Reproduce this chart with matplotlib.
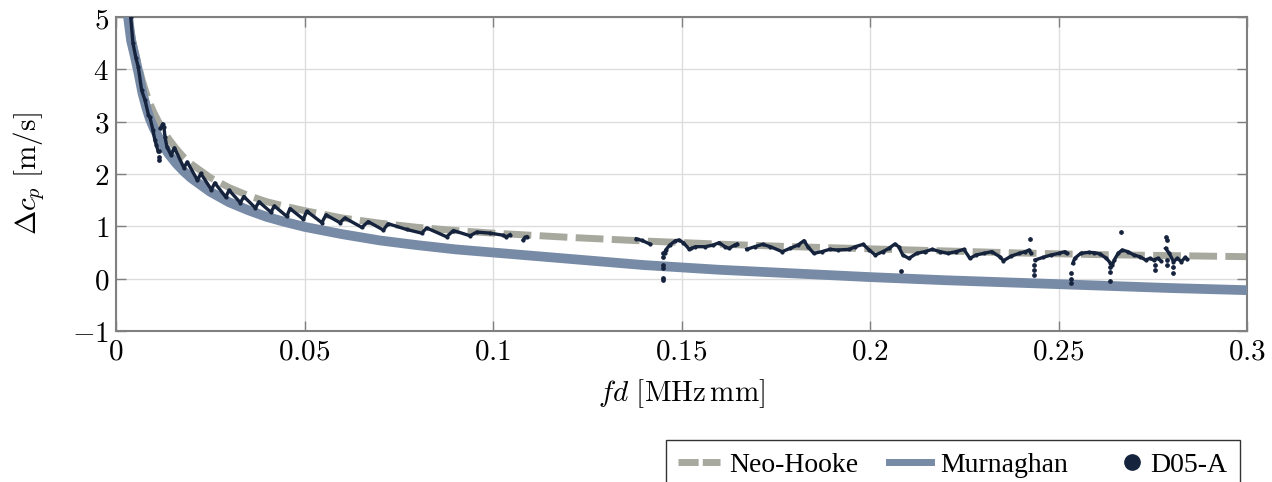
import numpy as np
import matplotlib.pyplot as plt
from matplotlib.lines import Line2D
from matplotlib.legend_handler import HandlerLine2D
from matplotlib.ticker import FuncFormatter

plt.rcParams['mathtext.fontset'] = 'cm'
plt.rcParams['font.family'] = ['DejaVu Serif']

# model curves: fd [MHz mm] vs delta c_p [m/s]
neo_x = [0.0030, 0.0035, 0.004, 0.005, 0.006, 0.007, 0.008, 0.009, 0.010, 0.012, 0.014,
         0.016, 0.018, 0.020, 0.025, 0.030, 0.035, 0.040, 0.045, 0.050, 0.060,
         0.070, 0.080, 0.090, 0.100, 0.120, 0.140, 0.160, 0.180, 0.200, 0.220,
         0.240, 0.260, 0.280, 0.300]
neo_y = [5.35, 5.00, 4.70, 4.35, 4.05, 3.78, 3.55, 3.35, 3.18, 2.90, 2.67,
         2.48, 2.32, 2.19, 1.93, 1.74, 1.59, 1.47, 1.38, 1.30, 1.16,
         1.06, 0.98, 0.92, 0.87, 0.79, 0.72, 0.66, 0.61, 0.57, 0.53,
         0.49, 0.46, 0.44, 0.42]

mur_x = [0.0028, 0.0032, 0.004, 0.005, 0.006, 0.007, 0.008, 0.009, 0.010, 0.012, 0.014,
         0.016, 0.018, 0.020, 0.025, 0.030, 0.035, 0.040, 0.045, 0.050, 0.060,
         0.070, 0.080, 0.090, 0.100, 0.120, 0.140, 0.160, 0.180, 0.200, 0.220,
         0.240, 0.260, 0.280, 0.300]
mur_y = [5.30, 5.00, 4.55, 4.25, 3.92, 3.55, 3.28, 3.05, 2.88, 2.60, 2.38,
         2.20, 2.05, 1.92, 1.66, 1.46, 1.31, 1.18, 1.08, 0.99, 0.85,
         0.73, 0.64, 0.56, 0.50, 0.38, 0.26, 0.17, 0.10, 0.03, -0.03,
         -0.08, -0.13, -0.18, -0.22]

# measured D05-A, contiguous runs (NaN = gap between runs)
d05_x = [0.0039, 0.0045, 0.0053, 0.0059, 0.0068, 0.0077, 0.0086, 0.0090, 0.0098, 0.0103,
         0.0107, 0.0112, np.nan,
         0.0118, 0.0124, 0.0127, 0.0130, 0.0135, 0.0146, 0.0155, 0.0180, 0.0189,
         0.0216, 0.0225, 0.0253, 0.0262, 0.0291, 0.0300, 0.0330, 0.0339, 0.0370,
         0.0379, 0.0411, 0.0420, 0.0453, 0.04615, 0.0497, 0.0506, 0.0546, 0.0557,
         0.0594, 0.0607, 0.0652, 0.0669, 0.0709, 0.0722, 0.0771, 0.0811, 0.0824,
         0.0877, 0.0895, 0.0939, 0.0957, 0.0992, 0.1027, 0.1035, 0.1045, np.nan,
         0.1080, 0.1085, 0.1090, np.nan,
         0.1380, 0.1395, 0.1417, np.nan,
         0.1455, 0.1458, 0.1469, 0.1484, 0.1493, 0.1505, 0.1521, 0.1526, 0.1537,
         0.1563, 0.1584, 0.1600, 0.1615, 0.1626, 0.1641, 0.1647, np.nan,
         0.1673, 0.1694, 0.1715, 0.1736, 0.1767, 0.1788, 0.1809, 0.1825, 0.1835,
         0.1851, 0.1872, 0.1893, 0.1914, 0.1945, 0.1961, 0.1982, 0.1998, 0.2014,
         0.2034, 0.2050, 0.2066, 0.2076, 0.2087, 0.2103, 0.2124, 0.2145, 0.2165,
         0.2186, 0.2207, 0.2228, 0.2249, 0.2265, 0.2281, 0.2302, 0.2323, 0.2344,
         0.2354, 0.2375, 0.2396, 0.2412, 0.2422, 0.2427, np.nan,
         0.2438, 0.2459, 0.2480, 0.2501, 0.2517, 0.2522, np.nan,
         0.2538, 0.2543, 0.2559, 0.2580, 0.2595, 0.2611, 0.2627, 0.2637, 0.2643,
         0.2648, 0.2658, 0.2669, 0.2684, 0.2700, 0.2716, 0.2731, 0.2742, 0.2752,
         0.2763, 0.2771, np.nan,
         0.2784, 0.2794, 0.2805, 0.2815, 0.2826, 0.2836, 0.2841]
d05_y = [5.00, 4.50, 4.21, 4.05, 3.60, 3.41, 3.13, 3.08, 2.84, 2.65,
         2.55, 2.43, np.nan,
         2.87, 2.96, 2.90, 2.71, 2.52, 2.36, 2.50, 2.12, 2.23,
         1.88, 2.01, 1.70, 1.83, 1.56, 1.69, 1.45, 1.57, 1.35,
         1.47, 1.27, 1.39, 1.19, 1.34, 1.135, 1.29, 1.07, 1.22,
         1.07, 1.16, 0.98, 1.09, 0.93, 1.05, 0.94, 0.87, 0.97,
         0.80, 0.92, 0.82, 0.89, 0.87, 0.83, 0.80, 0.84, np.nan,
         0.74, 0.79, 0.80, np.nan,
         0.76, 0.73, 0.66, np.nan,
         0.484, 0.548, 0.643, 0.726, 0.739, 0.688, 0.560, 0.579, 0.611,
         0.611, 0.643, 0.688, 0.611, 0.579, 0.643, 0.662, np.nan,
         0.560, 0.611, 0.656, 0.611, 0.516, 0.579, 0.643, 0.726, 0.611,
         0.484, 0.516, 0.560, 0.548, 0.560, 0.611, 0.656, 0.548, 0.452,
         0.516, 0.579, 0.662, 0.611, 0.452, 0.388, 0.484, 0.516, 0.560,
         0.516, 0.484, 0.516, 0.560, 0.388, 0.452, 0.484, 0.516, 0.420,
         0.344, 0.433, 0.484, 0.516, 0.548, 0.484, np.nan,
         0.357, 0.407, 0.452, 0.484, 0.516, 0.484, np.nan,
         0.293, 0.388, 0.484, 0.503, 0.497, 0.471, 0.388, 0.305, 0.261,
         0.357, 0.484, 0.548, 0.516, 0.452, 0.420, 0.357, 0.388, 0.357,
         0.388, 0.344, np.nan,
         0.579, 0.484, 0.325, 0.388, 0.325, 0.407, 0.369]

# scattered single samples away from the runs
out_x = [0.0114, 0.0115, 0.0115,
         0.1452, 0.1452, 0.1452, 0.1452, 0.1452, 0.1452,
         0.2082, 0.2424, 0.2436, 0.2436, 0.2436,
         0.2534, 0.2534, 0.2534, 0.2637, 0.2637, 0.2637, 0.2665,
         0.2756, 0.2756, 0.2785, 0.2787, 0.2787, 0.2787, 0.2805, 0.2805]
out_y = [2.43, 2.33, 2.27,
         0.49, 0.41, 0.26, 0.20, 0.02, -0.03,
         0.14, 0.75, 0.26, 0.17, 0.07,
         0.10, 0.00, -0.09, 0.22, 0.12, -0.05, 0.89,
         0.26, 0.17, 0.80, 0.73, 0.36, 0.26, 0.23, 0.11]

x_ticks = [0, 0.05, 0.1, 0.15, 0.2, 0.25, 0.3]
y_ticks = [-1, 0, 1, 2, 3, 4, 5]

c_neo = '#a8a99e'
c_mur = '#778aa6'
c_dat = '#16233d'


class HandlerDotRight(HandlerLine2D):
    # puts the single marker at the right end of its handle box, next to the label
    def create_artists(self, legend, orig_handle, xdescent, ydescent,
                       width, height, fontsize, trans):
        arts = super().create_artists(legend, orig_handle, xdescent, ydescent,
                                      width, height, fontsize, trans)
        shift = width / 2 - orig_handle.get_markersize() / 2 - 1
        for a in arts:
            a.set_xdata(np.asarray(a.get_xdata(), dtype=float) + shift)
        return arts


fig = plt.figure(figsize=(12.72, 4.82), dpi=100)
ax = fig.add_axes([116 / 1272, 1 - 331 / 482, 1131 / 1272, 314 / 482])

ax.plot(neo_x, neo_y, color=c_neo, lw=5, linestyle=(0, (4.0, 1.2)), zorder=2)
ax.plot(mur_x, mur_y, color=c_mur, lw=7, solid_capstyle='butt', zorder=3)
ax.plot(d05_x, d05_y, color=c_dat, lw=2.4, marker='o', ms=2.0, zorder=4)
ax.plot(out_x, out_y, linestyle='none', color=c_dat, marker='o', ms=2.4, zorder=4)

ax.set_xlim(0, 0.3)
ax.set_ylim(-1, 5)
ax.set_xticks(x_ticks)
ax.set_yticks(y_ticks)
ax.xaxis.set_major_formatter(FuncFormatter(lambda v, p: f'${v:g}$'))
ax.yaxis.set_major_formatter(FuncFormatter(lambda v, p: f'${v:g}$'))
ax.tick_params(direction='in', length=7, width=1, color='#808080',
               top=True, right=True, labelsize=21, pad=5)
ax.grid(True, color='#dddddd', lw=1)
ax.set_axisbelow(True)
for s in ax.spines.values():
    s.set_color('#808080')
    s.set_linewidth(1.5)

ax.set_xlabel(r'$fd\ [\mathrm{MHz\,mm}]$', fontsize=21, labelpad=8)
ax.set_ylabel(r'$\Delta c_p\ [\mathrm{m/s}]$', fontsize=21, labelpad=18)

dot = Line2D([], [], color=c_dat, linestyle='none', marker='o', ms=11)
handles = [
    Line2D([], [], color=c_neo, lw=5, linestyle=(0, (2.9, 0.6))),
    Line2D([], [], color=c_mur, lw=5),
    dot,
]
leg = fig.legend(handles, ['Neo-Hooke', 'Murnaghan', 'D05-A'], ncol=3,
                 loc='upper right', bbox_to_anchor=(1240 / 1272, 1 - 440 / 482),
                 borderaxespad=0, frameon=True, fancybox=False, edgecolor='black',
                 prop={'family': 'Liberation Serif', 'size': 20},
                 handlelength=1.5, handletextpad=0.35, columnspacing=1.1,
                 borderpad=0.45, handler_map={dot: HandlerDotRight(numpoints=1)})
leg.get_frame().set_linewidth(1)

fig.savefig('out.png', dpi=100)
